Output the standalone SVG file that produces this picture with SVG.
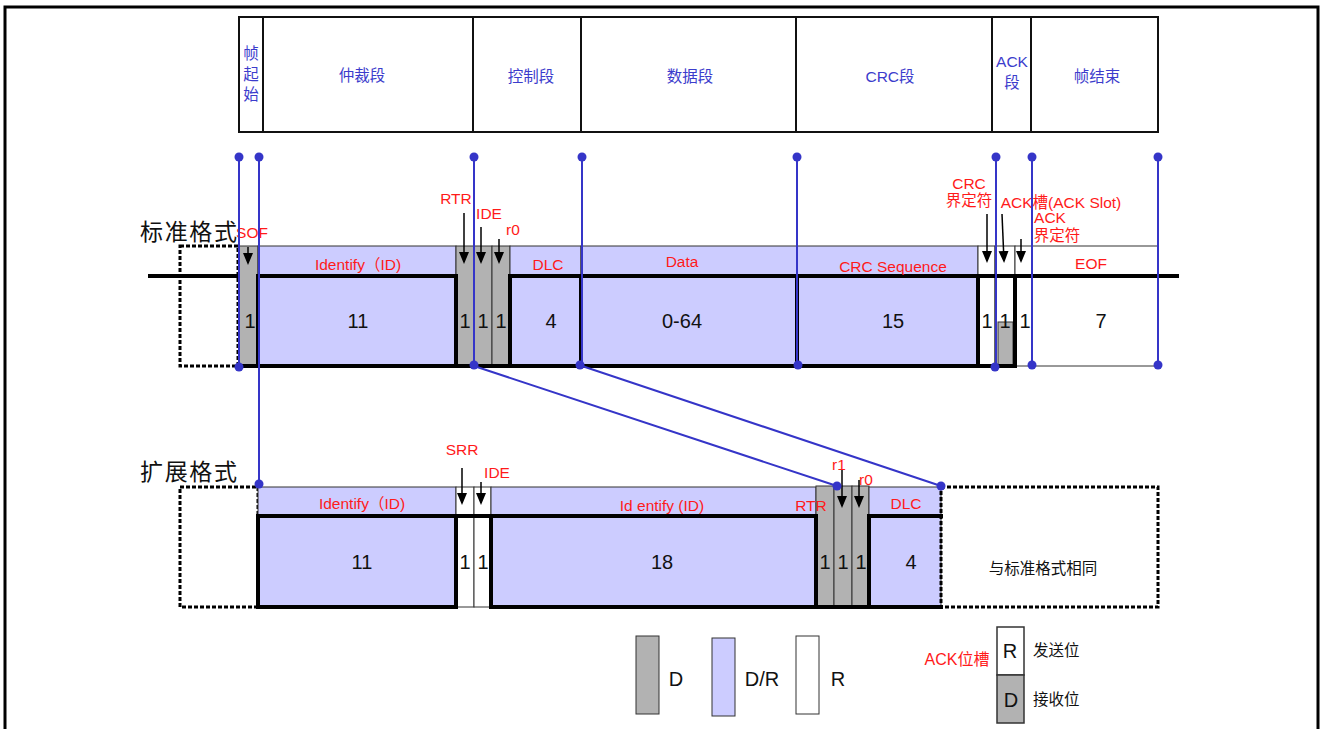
<svg xmlns="http://www.w3.org/2000/svg" width="1322" height="729" viewBox="0 0 1322 729">
<defs>
<marker id="ah" markerWidth="12" markerHeight="12" refX="10" refY="5" orient="auto" markerUnits="userSpaceOnUse"><path d="M0,0 L12,5 L0,10 Z" fill="#000"/></marker>
<style>
text{font-family:"Liberation Sans","Noto Sans CJK SC",sans-serif;}
.hdr{fill:none;stroke:#111;stroke-width:2}
.ht{fill:#3c3ccc;font-size:15.5px;text-anchor:middle}
.red{fill:#ff1a1a;font-size:15.5px;text-anchor:middle}
.num{fill:#111;font-size:20px;text-anchor:middle}
.blk{fill:#111;font-size:23px}
.lav{fill:#ccccff;stroke:#333;stroke-width:1}
.gry{fill:#b2b2b2;stroke:#333;stroke-width:1}
.wht{fill:#fff;stroke:#333;stroke-width:1}
.thk{fill:none;stroke:#000;stroke-width:4;stroke-linecap:square}
.dsh{fill:none;stroke:#000;stroke-width:3;stroke-dasharray:4 2}
.arr{stroke:#000;stroke-width:1.5;marker-end:url(#ah)}
.bl{stroke:#3535c8;stroke-width:2;fill:none}
.dot{fill:#3535c8}
.lg{fill:#111;font-size:15.5px}
</style>
</defs>
<rect x="0" y="0" width="1322" height="729" fill="#fff"/>
<path d="M5,740 V7 H1318 V740" fill="none" stroke="#000" stroke-width="3"/>

<g id="header">
<rect class="hdr" x="239" y="17" width="24" height="115"/>
<rect class="hdr" x="263" y="17" width="210" height="115"/>
<rect class="hdr" x="473" y="17" width="108" height="115"/>
<rect class="hdr" x="581" y="17" width="215" height="115"/>
<rect class="hdr" x="796" y="17" width="196" height="115"/>
<rect class="hdr" x="992" y="17" width="39" height="115"/>
<rect class="hdr" x="1031" y="17" width="127" height="115"/>
<text class="ht" x="251" y="59">帧</text>
<text class="ht" x="251" y="80">起</text>
<text class="ht" x="251" y="100">始</text>
<text class="ht" x="362" y="81">仲裁段</text>
<text class="ht" x="531" y="82">控制段</text>
<text class="ht" x="690" y="82">数据段</text>
<text class="ht" x="890" y="82">CRC段</text>
<text class="ht" x="1012" y="67">ACK</text>
<text class="ht" x="1012" y="88">段</text>
<text class="ht" x="1097" y="82">帧结束</text>
</g>

<g id="standard">
<text class="blk" x="140" y="240" textLength="97" lengthAdjust="spacing">标准格式</text>
<rect class="dsh" x="180" y="246" width="58" height="120"/>
<rect class="gry" x="239" y="246" width="19" height="120"/>
<rect class="lav" x="258" y="246" width="198" height="120"/>
<rect class="gry" x="456" y="246" width="18" height="120"/>
<rect class="gry" x="474" y="246" width="18" height="120"/>
<rect class="gry" x="492" y="246" width="18" height="120"/>
<rect class="lav" x="510" y="246" width="71" height="120"/>
<rect class="lav" x="581" y="246" width="216" height="120"/>
<rect class="lav" x="797" y="246" width="181" height="120"/>
<rect class="wht" x="978" y="246" width="17" height="120"/>
<rect class="wht" x="995" y="246" width="20" height="120"/>
<rect class="gry" x="998" y="322" width="15" height="44"/>
<rect class="wht" x="1015" y="246" width="17" height="120"/>
<rect class="wht" x="1032" y="246" width="126" height="120"/>
<path class="thk" d="M150,276 H237 M258,366 V276 H456 V366 M510,366 V276 H1177 M581,276 V366 M797,276 V366 M978,276 V366 M1015,276 V366 M239,366 H1015"/>
<text class="red" x="358" y="270">Identify（ID)</text>
<text class="red" x="548" y="270">DLC</text>
<text class="red" x="682" y="267">Data</text>
<text class="red" x="893" y="272">CRC Sequence</text>
<text class="red" x="1091" y="269">EOF</text>
<text class="num" x="250" y="328">1</text>
<text class="num" x="358" y="328">11</text>
<text class="num" x="465" y="328">1</text>
<text class="num" x="483" y="328">1</text>
<text class="num" x="501" y="328">1</text>
<text class="num" x="551" y="328">4</text>
<text class="num" x="682" y="328">0-64</text>
<text class="num" x="893" y="328">15</text>
<text class="num" x="987" y="328">1</text>
<text class="num" x="1005" y="328">1</text>
<text class="num" x="1025" y="328">1</text>
<text class="num" x="1101" y="328">7</text>
<text class="red" x="252" y="238">SOF</text>
<text class="red" x="456" y="204">RTR</text>
<text class="red" x="489" y="219">IDE</text>
<text class="red" x="513" y="235">r0</text>
<text class="red" x="969" y="189">CRC</text>
<text class="red" x="969" y="206">界定符</text>
<text class="red" x="1061" y="208">ACK槽(ACK Slot)</text>
<text class="red" x="1050" y="223">ACK</text>
<text class="red" x="1057" y="241">界定符</text>
<line class="arr" x1="248" y1="247" x2="248" y2="263"/>
<line class="arr" x1="464" y1="213" x2="464" y2="262"/>
<line class="arr" x1="481" y1="227" x2="481" y2="262"/>
<line class="arr" x1="499" y1="239" x2="499" y2="262"/>
<line class="arr" x1="987" y1="214" x2="987" y2="261"/>
<line class="arr" x1="1002" y1="214" x2="1004" y2="261"/>
<line class="arr" x1="1021" y1="239" x2="1021" y2="261"/>
</g>

<g id="extended">
<text class="blk" x="140" y="480" textLength="97" lengthAdjust="spacing">扩展格式</text>
<rect class="dsh" x="180" y="487" width="78" height="120"/>
<rect class="lav" x="258" y="487" width="198" height="120"/>
<rect class="wht" x="456" y="487" width="18" height="120"/>
<rect class="wht" x="474" y="487" width="17" height="120"/>
<rect class="lav" x="491" y="487" width="325" height="120"/>
<rect class="gry" x="816" y="486" width="18" height="121"/>
<rect class="gry" x="834" y="486" width="18" height="121"/>
<rect class="gry" x="852" y="486" width="17" height="121"/>
<rect class="lav" x="869" y="487" width="72" height="120"/>
<rect class="dsh" x="941" y="487" width="217" height="120"/>
<path class="thk" d="M258,607 V516 H816 V607 M869,607 V516 H941 M258,607 H456 M491,607 H941 M491,516 V607 M456,516 V607"/>
<text class="red" x="362" y="509">Identify（ID)</text>
<text class="red" x="662" y="511">Id entify (ID)</text>
<text class="red" x="811" y="511">RTR</text>
<text class="red" x="906" y="509">DLC</text>
<text class="red" x="462" y="455">SRR</text>
<text class="red" x="497" y="478">IDE</text>
<text class="red" x="839" y="470">r1</text>
<text class="red" x="866" y="485">r0</text>
<line class="arr" x1="462" y1="468" x2="462" y2="503"/>
<line class="arr" x1="481" y1="482" x2="481" y2="503"/>
<line class="arr" x1="842" y1="470" x2="842" y2="506"/>
<line class="arr" x1="859" y1="480" x2="859" y2="506"/>
<text class="num" x="362" y="569">11</text>
<text class="num" x="465" y="569">1</text>
<text class="num" x="483" y="569">1</text>
<text class="num" x="662" y="569">18</text>
<text class="num" x="825" y="569">1</text>
<text class="num" x="843" y="569">1</text>
<text class="num" x="861" y="569">1</text>
<text class="num" x="911" y="569">4</text>
<text class="lg" x="1043" y="574" style="text-anchor:middle">与标准格式相同</text>
</g>

<g id="connectors">
<path class="bl" d="M239,157 V367 M259,157 V484 M474,157 V366 L837,486 M582,157 V366 L941,486 M797,157 V366 M996,157 V367 M1032,157 V365 M1158,157 V365"/>
<g class="dot">
<circle cx="239" cy="157" r="4.5"/><circle cx="259" cy="157" r="4.5"/><circle cx="474" cy="157" r="4.5"/><circle cx="582" cy="157" r="4.5"/><circle cx="797" cy="157" r="4.5"/><circle cx="996" cy="157" r="4.5"/><circle cx="1032" cy="157" r="4.5"/><circle cx="1158" cy="157" r="4.5"/>
<circle cx="239" cy="367" r="4.5"/><circle cx="474" cy="365" r="4.5"/><circle cx="580" cy="365" r="4.5"/><circle cx="798" cy="365" r="4.5"/><circle cx="995" cy="367" r="4.5"/><circle cx="1032" cy="365" r="4.5"/><circle cx="1158" cy="365" r="4.5"/>
<circle cx="259" cy="484" r="4.5"/><circle cx="837" cy="486" r="4.5"/><circle cx="941" cy="486" r="4.5"/>
</g>
</g>

<g id="legend">
<rect class="gry" x="636" y="636" width="23" height="78"/>
<text class="num" x="676" y="686">D</text>
<rect class="lav" x="712" y="638" width="23" height="78"/>
<text class="num" x="762" y="686">D/R</text>
<rect class="wht" x="796" y="636" width="23" height="78"/>
<text class="num" x="838" y="686">R</text>
<text class="red" x="957" y="665" style="font-size:16px">ACK位槽</text>
<rect class="wht" x="997" y="627" width="27" height="48" style="stroke-width:1.5"/>
<rect class="gry" x="997" y="675" width="27" height="48" style="stroke-width:1.5"/>
<text class="num" x="1010" y="658">R</text>
<text class="num" x="1011" y="707">D</text>
<text class="lg" x="1033" y="656">发送位</text>
<text class="lg" x="1033" y="705">接收位</text>
</g>
</svg>
